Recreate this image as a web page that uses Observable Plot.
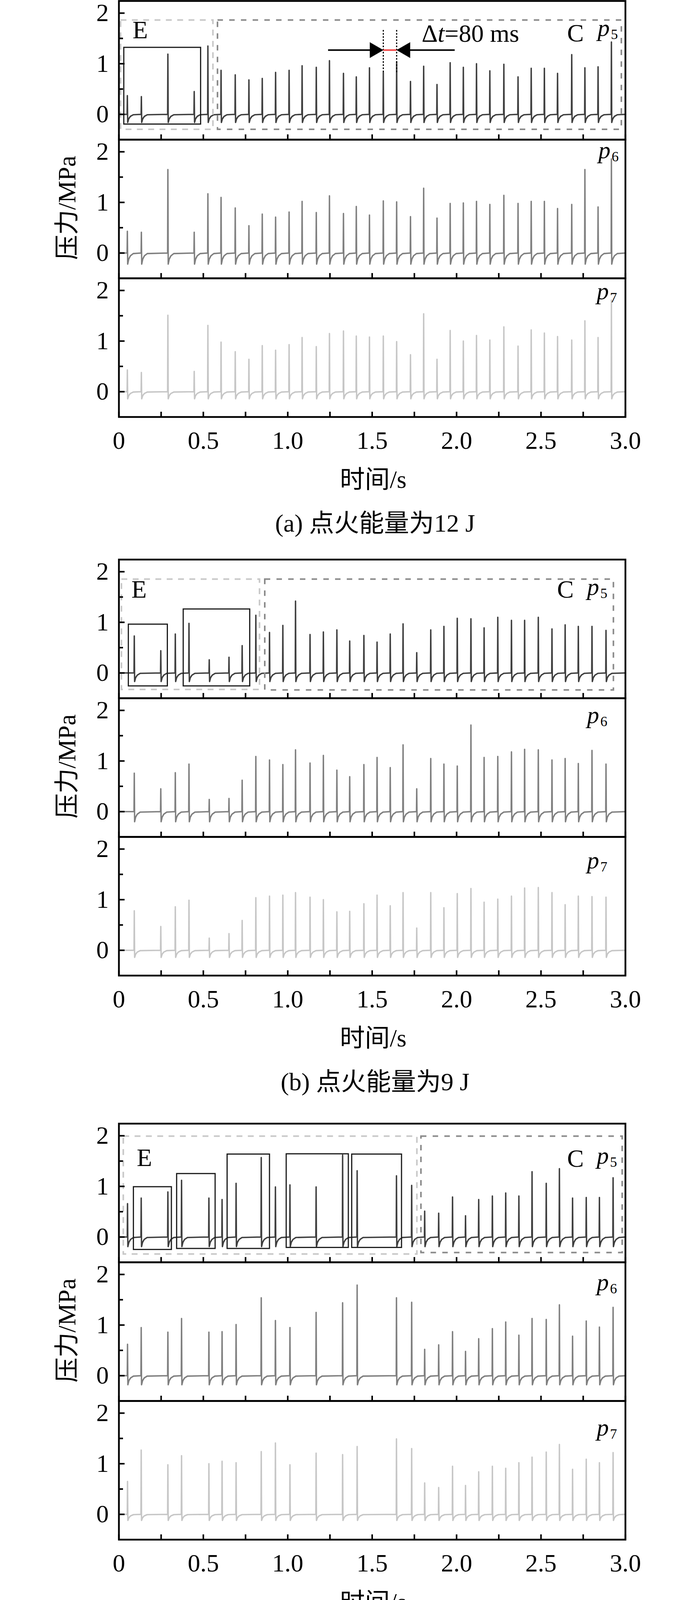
<!DOCTYPE html>
<html><head><meta charset="utf-8">
<script src="https://cdn.jsdelivr.net/npm/d3@7"></script>
<script src="https://cdn.jsdelivr.net/npm/@observablehq/plot@0.6"></script>
<style>
html,body{margin:0;padding:0;background:#fff;}
#root{position:relative;width:1772px;height:5684px;overflow:hidden;font-family:"Liberation Serif","Times New Roman","Noto Sans CJK SC",serif;color:#000;}
#inner{position:absolute;left:0;top:0;width:1772px;height:5684px;}
#root svg{position:absolute;left:0;overflow:visible;}
.lbl{position:absolute;white-space:nowrap;font-size:64px;line-height:1;transform:translate(-50%,-50%);}
.ylbl{position:absolute;white-space:nowrap;font-size:64px;line-height:1;transform:translate(-50%,-50%) rotate(-90deg);}
</style></head><body><div id="root"><div id="inner"></div></div>
<script>
const channels = ["p5", "p6", "p7"];
const xDomain = [0, 3];
const yDomain = [-0.5, 2.24];
const xTickValues = [0, 0.5, 1, 1.5, 2, 2.5, 3];
const xTickLabels = ["0", "0.5", "1.0", "1.5", "2.0", "2.5", "3.0"];
const xMinorTicks = [0.25, 0.75, 1.25, 1.75, 2.25, 2.75];
const yTickValues = [0, 1, 2];
const yTickLabels = ["0", "1", "2"];
const yMinorTicks = [0.5, 1.5];
const xTitle = "时间/s";
const yTitle = "压力/MPa";
const captions = ["(a) 点火能量为12 J", "(b) 点火能量为9 J", "(c) 点火能量为6 J", "(d) 点火能量为3 J"];

const timesA = [0.050,0.133,0.290,0.446,0.527,0.605,0.689,0.770,0.849,0.928,1.008,1.085,1.169,1.247,1.330,1.406,1.484,1.566,1.645,1.727,1.805,1.884,1.962,2.040,2.118,2.197,2.280,2.364,2.442,2.520,2.598,2.682,2.760,2.838,2.917];
const p5A = [0.37,0.35,1.19,0.45,1.35,0.87,0.78,0.68,0.71,0.83,0.87,0.96,0.93,1.06,0.81,0.74,0.92,0.83,1.04,0.65,0.95,0.59,1.02,0.93,1.00,0.86,0.99,0.74,0.91,0.91,0.81,1.18,0.92,0.94,1.43];
const p6A = [0.43,0.41,1.65,0.41,1.17,1.10,0.89,0.54,0.77,0.71,0.81,1.02,0.80,1.13,0.78,0.92,0.75,1.03,1.01,0.72,1.28,0.69,0.98,0.99,1.02,0.96,1.14,0.98,1.02,1.02,0.88,0.96,1.65,0.91,1.86];
const p7A = [0.43,0.38,1.51,0.40,1.31,0.98,0.79,0.64,0.91,0.82,0.93,1.07,0.89,1.15,1.20,1.10,1.08,1.10,0.99,0.73,1.54,0.64,1.21,1.00,1.11,1.02,1.28,0.90,1.22,1.16,1.09,1.02,1.40,1.07,1.81];
const dipA = [-0.16, -0.22, -0.14];
const dashedA = [{ch:"p5",tone:"E",x1:0.011,x2:0.558,y1:-0.30,y2:1.86},{ch:"p5",tone:"C",x1:0.585,x2:2.977,y1:-0.30,y2:1.86}];
const solidA = [{ch:"p5",x1:0.030,x2:0.485,y1:-0.196,y2:1.32}];
const regionA = [{ch:"p5",name:"E",x:0.081,y:1.50},{ch:"p5",name:"C",x:2.655,y:1.44}];
const chLabelA = [{ch:"p5",x:2.835,y:1.55},{ch:"p6",x:2.84,y:1.87},{ch:"p7",x:2.83,y:1.83}];

const timesB = [0.091,0.248,0.334,0.415,0.535,0.652,0.730,0.811,0.892,0.971,1.046,1.132,1.211,1.291,1.367,1.451,1.529,1.607,1.683,1.764,1.847,1.925,2.004,2.085,2.163,2.244,2.325,2.403,2.484,2.565,2.643,2.721,2.802,2.885];
const p5B = [0.73,0.44,0.77,0.98,0.26,0.31,0.54,1.14,0.80,0.94,1.42,0.76,0.81,0.85,0.63,0.74,0.61,0.77,0.97,0.40,0.85,0.92,1.08,1.07,0.89,1.10,1.04,1.04,1.10,0.87,0.95,0.92,0.92,0.84];
const p6B = [0.76,0.45,0.77,0.94,0.24,0.26,0.62,1.09,1.02,0.93,1.22,0.96,1.11,0.82,0.69,0.93,1.07,0.87,1.32,0.45,1.05,0.94,0.90,1.71,1.07,1.09,1.18,1.23,1.22,1.02,1.05,0.95,1.21,0.94];
const p7B = [0.78,0.47,0.86,0.99,0.24,0.33,0.59,1.04,1.07,1.09,1.14,1.05,1.00,0.76,0.77,0.92,1.09,0.88,1.14,0.44,1.14,0.84,1.12,1.22,0.95,1.01,1.07,1.23,1.24,1.14,0.90,1.07,1.06,1.05];
const dipB = [-0.17, -0.20, -0.14];
const dashedB = [{ch:"p5",tone:"E",x1:0.016,x2:0.834,y1:-0.33,y2:1.85},{ch:"p5",tone:"C",x1:0.865,x2:2.930,y1:-0.34,y2:1.85}];
const solidB = [{ch:"p5",x1:0.057,x2:0.288,y1:-0.26,y2:0.96},{ch:"p5",x1:0.382,x2:0.776,y1:-0.26,y2:1.26}];
const regionB = [{ch:"p5",name:"E",x:0.074,y:1.49},{ch:"p5",name:"C",x:2.595,y:1.49}];
const chLabelB = [{ch:"p5",x:2.773,y:1.54},{ch:"p6",x:2.773,y:1.75},{ch:"p7",x:2.773,y:1.62}];

const timesC = [0.051,0.132,0.290,0.371,0.533,0.611,0.694,0.843,0.927,1.013,1.168,1.325,1.411,1.644,1.734,1.811,1.894,1.976,2.053,2.131,2.212,2.291,2.369,2.447,2.531,2.609,2.687,2.768,2.846,2.927];
const p5C = [0.66,0.77,0.89,1.12,0.77,0.74,1.06,1.57,0.99,1.03,0.99,1.62,1.31,1.21,1.02,0.51,0.47,0.79,0.42,0.74,0.81,0.87,0.81,1.29,1.06,1.35,0.77,0.78,0.78,1.17];
const p6C = [0.62,0.95,0.86,1.13,0.86,0.87,1.01,1.54,1.09,0.95,1.25,1.44,1.79,1.54,1.45,0.52,0.61,0.87,0.48,0.73,0.93,1.06,0.80,1.13,1.11,1.40,0.78,1.08,0.96,1.35];
const p7C = [0.65,1.27,0.98,1.16,1.00,1.05,1.02,1.24,1.41,0.98,1.21,1.18,1.34,1.49,1.30,0.62,0.53,0.95,0.57,0.84,0.95,0.91,1.02,1.13,1.23,1.38,0.89,1.09,1.02,1.22];
const dipC = [-0.19, -0.18, -0.12];
const dashedC = [{ch:"p5",tone:"E",x1:0.027,x2:1.766,y1:-0.34,y2:1.99},{ch:"p5",tone:"C",x1:1.790,x2:2.982,y1:-0.31,y2:1.99}];
const solidC = [{ch:"p5",x1:0.087,x2:0.312,y1:-0.25,y2:0.99},{ch:"p5",x1:0.343,x2:0.571,y1:-0.23,y2:1.25},{ch:"p5",x1:0.642,x2:0.893,y1:-0.23,y2:1.635},{ch:"p5",x1:0.992,x2:1.360,y1:-0.21,y2:1.64},{ch:"p5",x1:1.380,x2:1.675,y1:-0.21,y2:1.635}];
const regionC = [{ch:"p5",name:"E",x:0.106,y:1.40},{ch:"p5",name:"C",x:2.655,y:1.39}];
const chLabelC = [{ch:"p5",x:2.83,y:1.45},{ch:"p6",x:2.83,y:1.69},{ch:"p7",x:2.83,y:1.56}];

const timesD = [0.05,0.13,0.21,0.29,0.37,0.45,0.53,0.61,0.69,0.77,0.85,0.93,1.01,1.09,1.17,1.25,1.33,1.41,1.49,1.57,1.65,1.73,1.81];
const p5D = [0.03,0.03,0.03,0.03,0.03,0.03,0.03,0.03,0.03,0.03,0.03,0.03,0.03,0.03,0.03,0.03,0.03,0.03,0.03,0.03,0.03,0.03,0.03];
const p6D = [0.02,0.02,0.02,0.02,0.02,0.02,0.02,0.02,0.02,0.02,0.02,0.02,0.02,0.02,0.02,0.02,0.02,0.02,0.02,0.02,0.02,0.02,0.02];
const p7D = [0.02,0.02,0.02,0.02,0.02,0.02,0.02,0.02,0.02,0.02,0.02,0.02,0.02,0.02,0.02,0.02,0.02,0.02,0.02,0.02,0.02,0.02,0.02];
const dipD = [-0.015, -0.01, -0.01];
const chLabelD = [{ch:"p5",x:2.773,y:1.62},{ch:"p6",x:2.773,y:1.56},{ch:"p7",x:2.773,y:1.62}];

const dtLines = [{ch:"p5",x:1.566,y1:0.83,y2:1.67},{ch:"p5",x:1.645,y1:0.83,y2:1.67}];
const dtSpan = [{ch:"p5",x1:1.566,x2:1.645,y:1.27}];
const dtArrowLines = [{ch:"p5",x1:1.24,x2:1.55,y:1.27},{ch:"p5",x1:1.66,x2:1.99,y:1.27}];
const dtTipRight = [{ch:"p5",x:1.566,y:1.27}];
const dtTipLeft = [{ch:"p5",x:1.645,y:1.27}];
const dtText = [{ch:"p5",x:1.793,y:1.43,text:"Δt=80 ms"}];
const fArrow = [{ch:"p5",x1:2.04,y1:1.04,x2:1.513,y2:0.09}];
const fText = [{ch:"p5",x:2.133,y:0.98,text:"F"}];

const W = 1772, ML = 304, MR = 171, MT = 10, MB = 110, PANEL = 355;
const COLORS = ["#3e3e3e", "#7f7f7f", "#c6c6c6"];
const FONT = '"Liberation Serif","Times New Roman","Noto Sans CJK SC",serif';
const PX_PER_X = (W - ML - MR) / (xDomain[1] - xDomain[0]);
const PX_PER_Y = PANEL / (yDomain[1] - yDomain[0]);

const blocks = [
  {top:2, times:timesA, series:[p5A,p6A,p7A], dips:dipA, dashed:dashedA, solid:solidA, region:regionA, chLabels:chLabelA, caption:captions[0], dt:true},
  {top:1432, times:timesB, series:[p5B,p6B,p7B], dips:dipB, dashed:dashedB, solid:solidB, region:regionB, chLabels:chLabelB, caption:captions[1]},
  {top:2876, times:timesC, series:[p5C,p6C,p7C], dips:dipC, dashed:dashedC, solid:solidC, region:regionC, chLabels:chLabelC, caption:captions[2]},
  {top:4304, times:timesD, series:[p5D,p6D,p7D], dips:dipD, dashed:[], solid:[], region:[], chLabels:chLabelD, caption:captions[3], f:true}
];

function waveform(times, heights, dip, ch) {
  const pts = [{ch, t: 0.004, v: 0}];
  times.forEach((t, i) => {
    const h = heights[i];
    pts.push({ch, t: t - 0.0015, v: 0});
    pts.push({ch, t: t, v: h});
    pts.push({ch, t: t + 0.002, v: dip});
    pts.push({ch, t: t + 0.008, v: dip * 0.55});
    pts.push({ch, t: t + 0.018, v: dip * 0.25});
    pts.push({ch, t: t + 0.035, v: dip * 0.05});
  });
  pts.push({ch, t: 3, v: 0});
  return pts;
}

function fixText(svg) {
  const NS = "http://www.w3.org/2000/svg";
  svg.querySelectorAll("text").forEach(t => {
    const s = t.textContent;
    let m;
    if ((m = /^p(\d)$/.exec(s))) {
      while (t.firstChild) t.removeChild(t.firstChild);
      const a = document.createElementNS(NS, "tspan");
      a.setAttribute("font-style", "italic"); a.textContent = "p";
      const b = document.createElementNS(NS, "tspan");
      b.setAttribute("font-size", "36"); b.setAttribute("dy", "8"); b.setAttribute("dx", "3"); b.textContent = m[1];
      t.appendChild(a); t.appendChild(b);
    } else if (s === "Δt=80 ms") {
      while (t.firstChild) t.removeChild(t.firstChild);
      const a = document.createElementNS(NS, "tspan"); a.textContent = "Δ";
      const b = document.createElementNS(NS, "tspan"); b.setAttribute("font-style", "italic"); b.textContent = "t";
      const c = document.createElementNS(NS, "tspan"); c.textContent = "=80 ms";
      t.appendChild(a); t.appendChild(b); t.appendChild(c);
    }
  });
}

const root = document.getElementById("inner");

blocks.forEach(b => {
  const marks = [];
  b.series.forEach((hs, i) => {
    marks.push(Plot.line(waveform(b.times, hs, b.dips[i], channels[i]), {x: "t", y: "v", fy: "ch", stroke: COLORS[i], strokeWidth: 3.6, strokeLinejoin: "round"}));
  });
  const dashedE = b.dashed.filter(d => d.tone === "E");
  const dashedC = b.dashed.filter(d => d.tone === "C");
  marks.push(Plot.rect(dashedE, {x1: "x1", x2: "x2", y1: "y1", y2: "y2", fy: "ch", fill: "none", stroke: "#c8c8c8", strokeWidth: 4, strokeDasharray: "15,14"}));
  marks.push(Plot.rect(dashedC, {x1: "x1", x2: "x2", y1: "y1", y2: "y2", fy: "ch", fill: "none", stroke: "#8a8a8a", strokeWidth: 4, strokeDasharray: "14,16"}));
  marks.push(Plot.rect(b.solid, {x1: "x1", x2: "x2", y1: "y1", y2: "y2", fy: "ch", fill: "none", stroke: "#1a1a1a", strokeWidth: 3}));
  marks.push(Plot.text(b.region, {x: "x", y: "y", fy: "ch", text: "name", textAnchor: "start", lineAnchor: "bottom", fontSize: 64, fill: "#000"}));
  marks.push(Plot.text(b.chLabels, {x: "x", y: "y", fy: "ch", text: "ch", textAnchor: "start", lineAnchor: "bottom", fontSize: 62, fill: "#000"}));
  if (b.dt) {
    marks.push(Plot.ruleX(dtLines, {x: "x", y1: "y1", y2: "y2", fy: "ch", stroke: "#000", strokeWidth: 3, strokeDasharray: "4,4"}));
    marks.push(Plot.ruleY(dtArrowLines, {y: "y", x1: "x1", x2: "x2", fy: "ch", stroke: "#000", strokeWidth: 4}));
    marks.push(Plot.ruleY(dtSpan, {y: "y", x1: "x1", x2: "x2", fy: "ch", stroke: "#f04545", strokeWidth: 4}));
    marks.push(Plot.dot(dtTipRight, {x: "x", y: "y", fy: "ch", symbol: "triangle", r: 15, fill: "#000", stroke: "none", rotate: 90, dx: -23}));
    marks.push(Plot.dot(dtTipLeft, {x: "x", y: "y", fy: "ch", symbol: "triangle", r: 15, fill: "#000", stroke: "none", rotate: -90, dx: 23}));
    marks.push(Plot.text(dtText, {x: "x", y: "y", fy: "ch", text: "text", textAnchor: "start", lineAnchor: "bottom", fontSize: 64, fill: "#000"}));
  }
  if (b.f) {
    const a = fArrow[0];
    const dxp = (a.x2 - a.x1) * PX_PER_X, dyp = -(a.y2 - a.y1) * PX_PER_Y;
    const ang = Math.atan2(dyp, dxp);
    marks.push(Plot.link(fArrow, {x1: "x1", y1: "y1", x2: "x2", y2: "y2", fy: "ch", stroke: "#000", strokeWidth: 4}));
    marks.push(Plot.dot(fArrow, {x: "x2", y: "y2", fy: "ch", symbol: "triangle", r: 15, fill: "#000", stroke: "none", rotate: ang * 180 / Math.PI + 90, dx: -23 * Math.cos(ang), dy: -23 * Math.sin(ang)}));
    marks.push(Plot.text(fText, {x: "x", y: "y", fy: "ch", text: "text", textAnchor: "start", lineAnchor: "bottom", fontSize: 64, fill: "#000"}));
  }
  marks.push(Plot.axisY(yTickValues, {anchor: "left", tickSize: -15, tickFormat: () => "", strokeWidth: 4, label: null}));
  marks.push(Plot.axisY(yMinorTicks, {anchor: "left", tickSize: -11, tickFormat: () => "", strokeWidth: 4, label: null}));
  marks.push(Plot.axisY(yTickValues, {anchor: "left", tickSize: 0, tickPadding: 26, tickFormat: d => yTickLabels[yTickValues.indexOf(d)], fontSize: 64, label: null}));
  marks.push(Plot.axisX(xTickValues.concat(xMinorTicks), {anchor: "bottom", tickSize: -13, tickFormat: () => "", strokeWidth: 4, facetAnchor: null, label: null}));
  marks.push(Plot.axisX(xTickValues, {anchor: "bottom", tickSize: 0, tickPadding: 36, tickFormat: d => xTickLabels[xTickValues.indexOf(d)], fontSize: 64, label: null}));
  marks.push(Plot.frame({stroke: "#000", strokeWidth: 4.5}));

  const svg = Plot.plot({
    width: W, height: PANEL * 3 + MT + MB,
    marginLeft: ML, marginRight: MR, marginTop: MT, marginBottom: MB,
    x: {domain: xDomain}, y: {domain: yDomain},
    fy: {domain: channels, padding: 0, axis: null, label: null},
    style: {fontFamily: FONT, fontSize: "64px", background: "transparent", color: "#000", overflow: "visible"},
    marks
  });
  svg.style.top = (b.top - MT) + "px";
  fixText(svg);
  root.appendChild(svg);

  const cx = ML + (W - ML - MR) / 2 + 3;
  const xl = document.createElement("div"); xl.className = "lbl"; xl.textContent = xTitle;
  xl.style.left = cx + "px"; xl.style.top = (b.top + 1226) + "px"; root.appendChild(xl);
  const cap = document.createElement("div"); cap.className = "lbl"; cap.textContent = b.caption;
  cap.style.left = (cx + 5) + "px"; cap.style.top = (b.top + 1338) + "px"; root.appendChild(cap);
  const yl = document.createElement("div"); yl.className = "ylbl"; yl.textContent = yTitle;
  yl.style.left = "172px"; yl.style.top = (b.top + 530) + "px"; root.appendChild(yl);
});
</script></body></html>
